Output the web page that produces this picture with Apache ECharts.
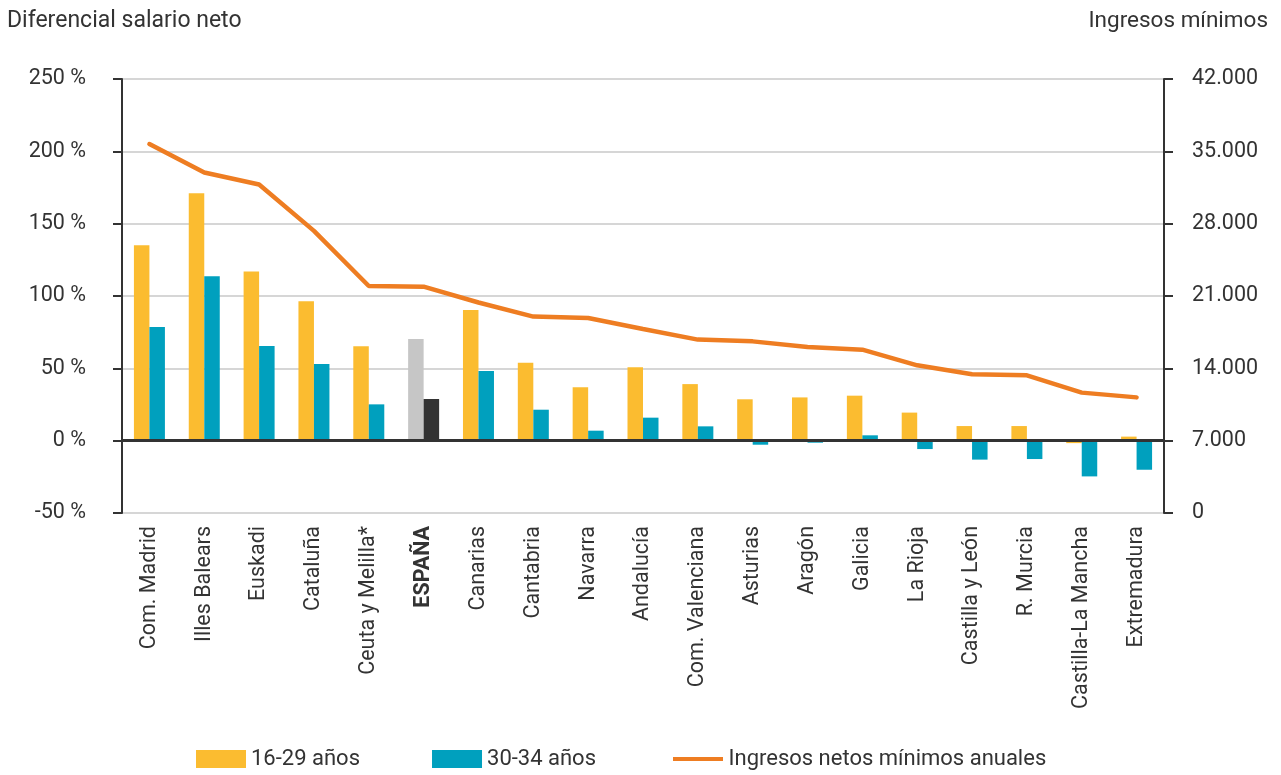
<!DOCTYPE html>
<html><head><meta charset="utf-8">
<script src="https://cdn.jsdelivr.net/npm/echarts@6/dist/echarts.min.js"></script>
<style>html,body{margin:0;padding:0;background:#fff}#c{width:1281px;height:775px}</style>
</head><body><div id="c"></div>
<script>
const categories = ['Com. Madrid','Illes Balears','Euskadi','Cataluña','Ceuta y Melilla*','ESPAÑA','Canarias','Cantabria','Navarra','Andalucía','Com. Valenciana','Asturias','Aragón','Galicia','La Rioja','Castilla y León','R. Murcia','Castilla-La Mancha','Extremadura'];
const young = [135, 171, 117, 96.3, 65.2, 70.3, 90.3, 53.9, 36.9, 50.7, 39.1, 28.6, 29.9, 31.1, 19.4, 10.1, 10.1, -1.7, 2.8];
const older = [78.6, 113.6, 65.4, 53, 25.1, 28.8, 48.1, 21.4, 6.9, 15.9, 9.9, -2.8, -1.4, 3.7, -5.8, -13.1, -12.7, -24.7, -20.1];
const minIncome = [35700, 32950, 31790, 27300, 21970, 21900, 20370, 19010, 18870, 17800, 16780, 16610, 16060, 15810, 14290, 13420, 13320, 11650, 11190];
const leftTicks = {min: -50, max: 250, interval: 50};
const rightTicks = {min: 0, max: 42000, interval: 7000};
const highlightCat = 'ESPAÑA';

const FONT = 'Roboto, "Noto Sans", sans-serif';
const YELLOW = '#FBBC30', TEAL = '#00A0BE', ORANGE = '#EE7D22';
const FS = 21.5;
const LFS = 22;

const youngData = young.map((v,i)=> categories[i]===highlightCat ? {value:v, itemStyle:{color:'#C6C6C6'}} : v);
const olderData = older.map((v,i)=> categories[i]===highlightCat ? {value:v, itemStyle:{color:'#333333'}} : v);

const chart = echarts.init(document.getElementById('c'), null, {renderer:'canvas'});
chart.setOption({
  animation: false,
  textStyle: {fontFamily: FONT},
  grid: {left:122, right:117, top:79, bottom:262, containLabel:false},
  graphic: [
    {type:'text', left:7, top:10, style:{text:'Diferencial salario neto', font:'23px '+FONT, fill:'#333'}},
    {type:'text', right:13, top:10, style:{text:'Ingresos mínimos', font:'22.5px '+FONT, fill:'#333'}}
  ],
  legend: [
    {
      bottom: 5, left: 196, padding: 0, itemWidth: 50, itemHeight: 18, itemGap: 72,
      textStyle: {fontSize: LFS, color:'#333', fontFamily: FONT},
      data: [
        {name:'16-29 años', icon:'rect'},
        {name:'30-34 años', icon:'rect'}
      ]
    },
    {
      bottom: 5, left: 673, padding: 0, itemWidth: 51, itemHeight: 18,
      textStyle: {fontSize: LFS, color:'#333', fontFamily: FONT},
      data: [{name:'Ingresos netos mínimos anuales', icon:'path://M0,7 L50,7 L50,11 L0,11 Z M0,0 L0,0 M50,18 L50,18'}]
    }
  ],
  xAxis: {
    type:'category', data: categories,
    axisLine:{show:false, onZero:false},
    axisTick:{show:false},
    axisLabel:{
      rotate:90, margin:13, fontSize:FS, color:'#333', fontFamily: FONT,
      formatter: v => v===highlightCat ? '{b|'+v+'}' : v,
      rich:{b:{fontWeight:'bold', fontSize:FS, color:'#333', fontFamily: FONT}}
    }
  },
  yAxis: [
    {type:'value', min:leftTicks.min, max:leftTicks.max, interval:leftTicks.interval,
     axisLine:{show:true, lineStyle:{color:'#333', width:2}},
     axisTick:{show:true, inside:false, length:9, lineStyle:{color:'#333', width:2}},
     axisLabel:{margin:36, fontSize:FS, color:'#333', formatter: v => v+' %'},
     splitLine:{show:true, lineStyle:{color:'#c8c8c8', width:1.5}}
    },
    {type:'value', min:rightTicks.min, max:rightTicks.max, interval:rightTicks.interval, position:'right',
     axisLine:{show:true, lineStyle:{color:'#333', width:2}},
     axisTick:{show:true, length:9, lineStyle:{color:'#333', width:2}},
     axisLabel:{margin:28, fontSize:FS, color:'#333', formatter: v => v===0 ? '0' : String(v).replace(/\B(?=(\d{3})+(?!\d))/g,'.')},
     splitLine:{show:false}
    }
  ],
  series: [
    {name:'16-29 años', type:'bar', data: youngData, barWidth:15.5, barGap:'0%',
     itemStyle:{color:YELLOW},
     markLine:{silent:true, symbol:'none', label:{show:false},
       lineStyle:{color:'#333', width:3, type:'solid'}, data:[{yAxis:0}]}},
    {name:'30-34 años', type:'bar', data: olderData, barWidth:15.5, barGap:'0%',
     itemStyle:{color:TEAL}},
    {name:'Ingresos netos mínimos anuales', type:'line', yAxisIndex:1, data:minIncome,
     symbol:'none', lineStyle:{color:ORANGE, width:4.5, cap:'round'}, itemStyle:{color:ORANGE}, z:5}
  ]
});
</script></body></html>
